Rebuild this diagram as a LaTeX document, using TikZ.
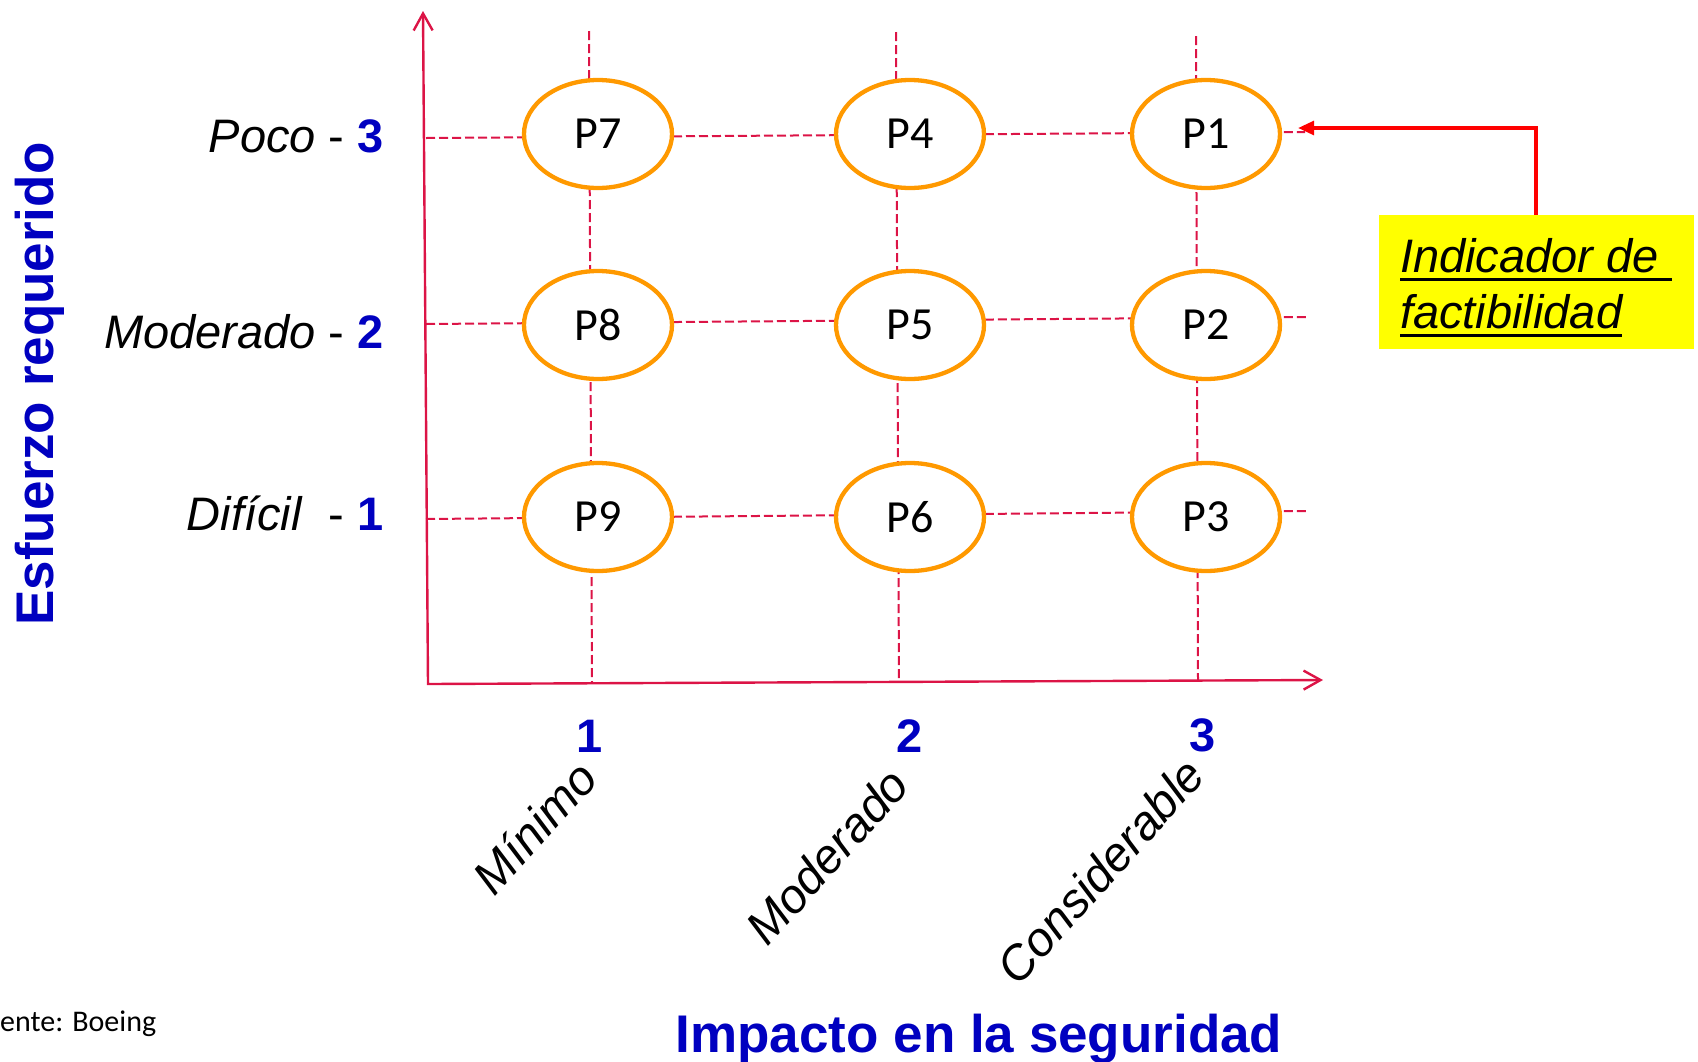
\documentclass[tikz,border=0pt]{standalone}
\usepackage{fontspec}
\setmainfont{Liberation Sans}
\newfontfamily\calibri{Carlito}
\usepackage{xcolor}
\usepackage{tikz}
\usetikzlibrary{arrows.meta,shapes.geometric}

\definecolor{gridred}{RGB}{220,20,70}
\definecolor{ringorange}{RGB}{255,153,0}
\definecolor{axisblue}{RGB}{0,0,192}
\definecolor{notered}{RGB}{255,0,0}
\definecolor{noteyellow}{RGB}{255,255,0}

\newsavebox{\notebox}
\newcommand{\noteline}[1]{\sbox{\notebox}{#1}\rlap{\rule[-8pt]{\wd\notebox}{2.6pt}}\usebox{\notebox}}

\begin{document}
\begin{tikzpicture}[x=1pt,y=-1pt,
    grid/.style={gridred, line width=2pt, dash pattern=on 9pt off 4pt},
    axisline/.style={gridred, line width=2.4pt, arrows={Straight Barb[length=17pt,width=19pt]-Straight Barb[length=17pt,width=19pt]}},
    option/.style={ellipse, draw=ringorange, line width=4.3pt, fill=white, minimum width=148pt, minimum height=108pt, inner sep=0pt, font=\calibri\fontsize{46}{50}\selectfont},
    level/.style={anchor=base east, inner sep=0pt, font=\fontsize{47}{56}\selectfont},
    tick/.style={anchor=base, inner sep=0pt, text=axisblue, font=\bfseries\fontsize{47}{56}\selectfont},
    grade/.style={anchor=base east, rotate=48, inner sep=0pt, font=\itshape\fontsize{48}{56}\selectfont},
    title/.style={anchor=base, inner sep=0pt, text=axisblue, font=\bfseries\fontsize{53}{60}\selectfont},
    pointer/.style={notered, line width=3.2pt, -{Triangle[length=16pt,width=14pt]}}]
    \useasboundingbox (0,0) rectangle (1698,1061);

    % axes
    \coordinate (origin) at (428,684);
    \coordinate (ytip) at (423,11);
    \coordinate (xtip) at (1323,680);
    \draw[axisline] (ytip) -- (origin) -- (xtip);

    % dashed grid
    \coordinate (h1l) at (426,138); \coordinate (h1r) at (1305,132);
    \coordinate (h2l) at (426,324); \coordinate (h2r) at (1307,317);
    \coordinate (h3l) at (426,519); \coordinate (h3r) at (1307,511);
    \coordinate (v1t) at (589,31);  \coordinate (v1b) at (592,683);
    \coordinate (v2t) at (896,32);  \coordinate (v2b) at (899,682);
    \coordinate (v3t) at (1196,36); \coordinate (v3b) at (1198,681);
    \draw[grid] (h1l) -- (h1r);
    \draw[grid] (h2l) -- (h2r);
    \draw[grid] (h3l) -- (h3r);
    \draw[grid] (v1t) -- (v1b);
    \draw[grid] (v2t) -- (v2b);
    \draw[grid] (v3t) -- (v3b);

    % options
    \node[option] (P7) at (598,134) {P7};
    \node[option] (P4) at (910,134) {P4};
    \node[option] (P1) at (1206,134) {P1};
    \node[option] (P8) at (598,325) {P8};
    \node[option] (P5) at (910,325) {P5};
    \node[option] (P2) at (1206,325) {P2};
    \node[option] (P9) at (598,517) {P9};
    \node[option] (P6) at (910,517) {P6};
    \node[option] (P3) at (1206,517) {P3};

    % effort levels
    \node[level] (poco) at (384,152) {\textit{Poco} - \textbf{\color{axisblue}3}};
    \node[level] (moderado) at (384,348) {\textit{Moderado} - \textbf{\color{axisblue}2}};
    \node[level] (dificil) at (384,530) {\textit{Difícil}~~- \textbf{\color{axisblue}1}};
    \node[title, rotate=90] (esfuerzo) at (53,384) {Esfuerzo requerido};

    % impact levels
    \node[tick] (n1) at (590,752) {1};
    \node[tick] (n2) at (910,752) {2};
    \node[tick] (n3) at (1203,751) {3};
    \node[grade] (minimo) at (600,780) {Mínimo};
    \node[grade] (moderadoi) at (912,787) {Moderado};
    \node[grade] (considerable) at (1208,777) {Considerable};
    \node[title] (impacto) at (979,1052) {Impacto en la seguridad};

    % indicator
    \node[fill=noteyellow, minimum width=315pt, minimum height=134pt, inner sep=0pt, align=left,
          font=\itshape\fontsize{47}{56}\selectfont]
          (indicador) at (1536,282) {\rule{0pt}{45pt}\noteline{Indicador de~}\\\noteline{factibilidad}};
    \draw[pointer] (indicador.north) |- ([xshift=16pt,yshift=6pt]P1.east);

    \node[anchor=base west, inner sep=0pt, font=\calibri\fontsize{30}{34}\selectfont] (fuente) at (0,1031) {ente: Boeing};
\end{tikzpicture}
\end{document}
